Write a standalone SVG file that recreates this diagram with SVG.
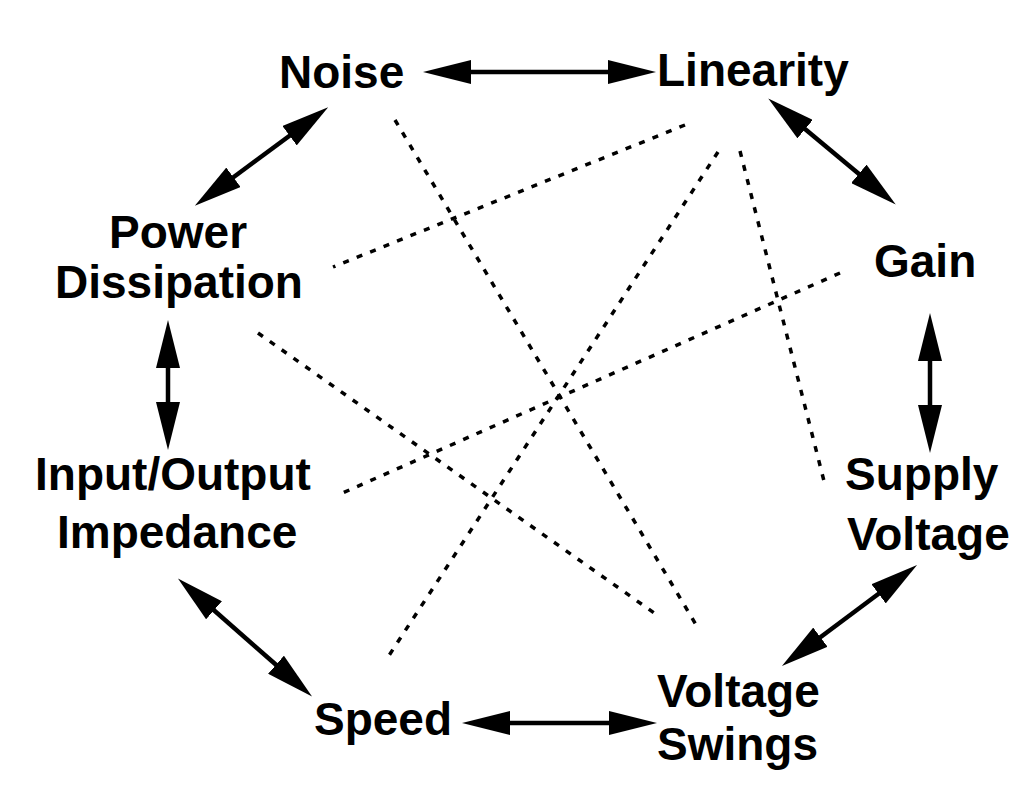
<svg xmlns="http://www.w3.org/2000/svg" width="1024" height="805" viewBox="0 0 1024 805">
<style>
.lbl{font-family:"Liberation Sans",Arial,sans-serif;font-weight:bold;font-size:46px;fill:#000}
.arr{stroke:#000;stroke-width:4.5;fill:none;marker-start:url(#ah);marker-end:url(#ah)}
.dash{stroke:#000;stroke-width:3.5;fill:none;stroke-dasharray:6 8.5}
</style>
<defs>
<marker id="ah" markerUnits="userSpaceOnUse" markerWidth="48" markerHeight="24" refX="8" refY="12" orient="auto-start-reverse" viewBox="0 0 48 24">
<path d="M0,0 L48,12 L0,24 Z" fill="#000"/>
</marker>
</defs>
<rect width="1024" height="805" fill="#fff"/>
<g id="connectors">
<line class="arr" x1="463" y1="72" x2="616" y2="72"/>
<line class="arr" x1="296" y1="131" x2="227" y2="182"/>
<line class="arr" x1="799" y1="124" x2="865" y2="179"/>
<line class="arr" x1="930" y1="353" x2="930" y2="413"/>
<line class="arr" x1="168" y1="360" x2="168" y2="410"/>
<line class="arr" x1="208" y1="605" x2="282" y2="670"/>
<line class="arr" x1="502" y1="723" x2="617" y2="723"/>
<line class="arr" x1="885" y1="589" x2="814" y2="642"/>
<line class="dash" x1="395" y1="120" x2="698" y2="628"/>
<line class="dash" x1="685" y1="125" x2="333" y2="267"/>
<line class="dash" x1="718" y1="152" x2="388" y2="657"/>
<line class="dash" x1="740" y1="151" x2="825" y2="485"/>
<line class="dash" x1="840" y1="273" x2="338" y2="495"/>
<line class="dash" x1="258" y1="333" x2="657" y2="615"/>
</g>
<g id="noise"><text class="lbl" x="279" y="88">Noise</text></g>
<g id="linearity"><text class="lbl" x="657" y="86">Linearity</text></g>
<g id="power-dissipation"><text class="lbl" x="109" y="248">Power</text><text class="lbl" x="55" y="298">Dissipation</text></g>
<g id="gain"><text class="lbl" x="874" y="277">Gain</text></g>
<g id="input-output-impedance"><text class="lbl" x="35" y="490">Input/Output</text><text class="lbl" x="57" y="548">Impedance</text></g>
<g id="supply-voltage"><text class="lbl" x="845" y="490">Supply</text><text class="lbl" x="847" y="550">Voltage</text></g>
<g id="speed"><text class="lbl" x="314" y="735">Speed</text></g>
<g id="voltage-swings"><text class="lbl" x="657" y="707">Voltage</text><text class="lbl" x="657" y="760">Swings</text></g>
</svg>
